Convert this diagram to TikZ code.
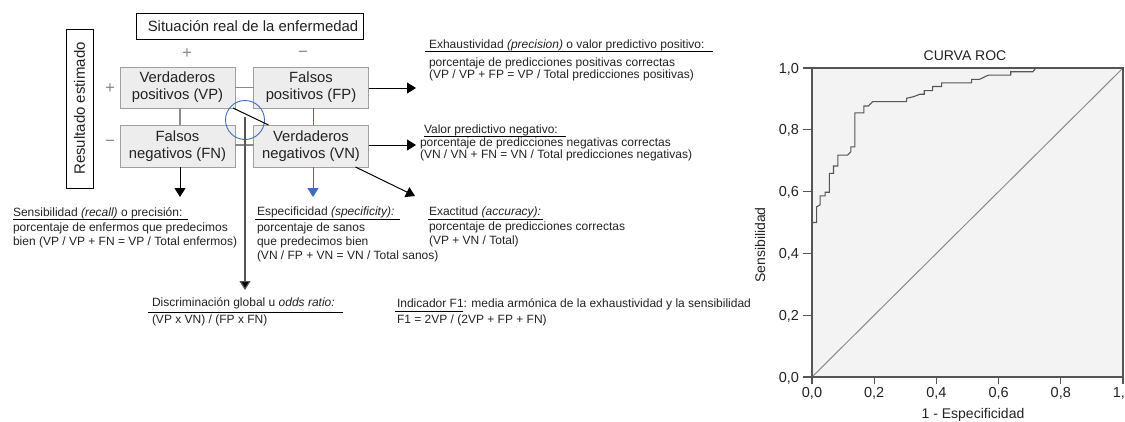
\documentclass[tikz,border=0pt]{standalone}
\usepackage{fontspec}
\setmainfont{Liberation Sans}
\usetikzlibrary{arrows.meta}
\definecolor{txt}{HTML}{222222}
\definecolor{boxfill}{HTML}{EDEDED}
\definecolor{boxdraw}{HTML}{A0A0A0}
\definecolor{conn}{HTML}{8A8A8A}
\definecolor{blu}{HTML}{3D6CC0}
\definecolor{plotbg}{HTML}{F3F3F3}
\definecolor{axiscol}{HTML}{555555}
\begin{document}
\begin{tikzpicture}[x=1pt,y=-1pt,
  every node/.style={inner sep=0pt, outer sep=0pt, text=txt},
  cell/.style={draw=boxdraw, fill=boxfill, minimum width=115pt, minimum height=41pt, align=center, font=\fontsize{14.8}{17}\selectfont, line width=0.8pt},
  small/.style={font=\fontsize{12}{14}\selectfont, anchor=base west},
  sign/.style={font=\fontsize{17}{18}\selectfont, text=conn},
  arr/.style={-{Triangle[length=9pt,width=11pt]}, line width=1pt, draw=black},
  barr/.style={-{Triangle[length=9pt,width=11pt]}, line width=1pt, draw=blu},
  gline/.style={draw=conn, line width=1.3pt},
  uline/.style={draw=black, line width=0.8pt},
  tick/.style={draw=axiscol, line width=1.2pt},
  ticklab/.style={font=\fontsize{14.5}{16}\selectfont}
]
\useasboundingbox (0,0) rectangle (1125,421);

% header boxes
\node[draw=black, line width=0.9pt, minimum width=227pt, minimum height=26pt, font=\fontsize{14.9}{17}\selectfont] (sit) at (249.5,26) {\hspace*{7pt}Situación real de la enfermedad};
\node[draw=black, line width=0.9pt, minimum width=159pt, minimum height=27pt, rotate=90, font=\fontsize{15}{17}\selectfont] (res) at (79.5,108.5) {Resultado estimado};

% signs
\node[sign] (sp) at (187,54) {+};
\node[sign] (sm) at (303,54) {−};
\node[sign] (rp) at (110,89) {+};
\node[sign] (rm) at (110,143) {−};

% cells
\node[cell] (VP) at (177.5,87.5) {Verdaderos\\positivos (VP)};
\node[cell] (FP) at (311,87.5) {Falsos\\positivos (FP)};
\node[cell, minimum height=42pt] (FN) at (177.5,146) {Falsos\\negativos (FN)};
\node[cell, minimum height=42pt] (VN) at (311,146) {Verdaderos\\negativos (VN)};

% connectors between cells
\draw[gline] (VP.east) -- (FP.west);
\draw[gline] ([xshift=2.5pt]VP.south) -- ([xshift=2.5pt]FN.north);
\draw[gline] ([yshift=1pt]FN.east) -- ([yshift=1pt]VN.west);
\draw[draw=blu, line width=1pt] ([xshift=2pt]FP.south) -- ([xshift=2pt]VN.north);

% circle and diagonal
\node[draw=blu, line width=0.9pt, circle, minimum size=39pt] (circ) at (245,120) {};
\draw[draw=black, line width=1pt] ([xshift=-2pt]VP.south east) -- ([xshift=15pt]VN.north west);

% free ends
\coordinate (tFP) at (416,88);
\coordinate (tVN) at (416,145);
\coordinate (tAcc) at (415,196);
\coordinate (tFN) at (180,197);
\coordinate (tSpe) at (313,197);
\coordinate (tOdd) at (245,290);

% arrows
\draw[arr] (FP.east |- tFP) -- (tFP);
\draw[arr] (VN.east |- tVN) -- (tVN);
\draw[arr] ([xshift=-13pt]VN.south east) -- (tAcc);
\draw[arr] (FN.south -| tFN) -- (tFN);
\draw[barr] (VN.south -| tSpe) -- (tSpe);
\draw[draw=axiscol, line width=1.2pt, -{Triangle[length=9pt,width=11pt,fill=black]}] ([yshift=3pt]circ.center) -- (tOdd);

% right texts
\node[small] (exh) at (429,48.3) {Exhaustividad \textit{(precision)} o valor predictivo positivo:};
\draw[uline] (425,51.5) -- (713,51.5);
\node[small] (exh1) at (429,66.5) {porcentaje de predicciones positivas correctas};
\node[small] (exh2) at (429,78.5) {(VP / VP + FP = VP / Total predicciones positivas)};

\node[small] (vpn) at (424,133.3) {Valor predictivo negativo:};
\draw[uline] (424,136.3) -- (566,136.3);
\node[small] (vpn1) at (420,146.5) {porcentaje de predicciones negativas correctas};
\node[small] (vpn2) at (420,158) {(VN / VN + FN = VN / Total predicciones negativas)};

% bottom texts
\node[small] (sen) at (13,216.7) {Sensibilidad \textit{(recall)} o precisión:};
\draw[uline] (13,219.8) -- (188,219.8);
\node[small] (sen1) at (13,231.5) {porcentaje de enfermos que predecimos};
\node[small] (sen2) at (13,245) {bien (VP / VP + FN = VP / Total enfermos)};

\node[small] (esp) at (257,215.5) {Especificidad \textit{(specificity):}};
\draw[uline] (255,219.5) -- (400,219.5);
\node[small] (esp1) at (257,231.5) {porcentaje de sanos};
\node[small] (esp2) at (257,245) {que predecimos bien};
\node[small] (esp3) at (257,259) {(VN / FP + VN = VN / Total sanos)};

\node[small] (acc) at (429,215) {Exactitud \textit{(accuracy):}};
\draw[uline] (428,219) -- (543,219);
\node[small] (acc1) at (429,230) {porcentaje de predicciones correctas};
\node[small] (acc2) at (429,244.5) {(VP + VN / Total)};

\node[small] (odd) at (152,306.7) {Discriminación global u \textit{odds ratio:}};
\draw[uline] (148,312.3) -- (343,312.3);
\node[small] (odd1) at (152,323) {(VP x VN) / (FP x FN)};

\node[small] (f1) at (397,307.5) {Indicador F1: media armónica de la exhaustividad y la sensibilidad};
\draw[uline] (395,311.8) -- (463,311.8);
\node[small] (f11) at (397,323) {F1 = 2VP / (2VP + FP + FN)};

% ROC plot
\node[font=\fontsize{14}{16}\selectfont, anchor=base] (roct) at (965,60) {CURVA ROC};
\fill[plotbg] (812,68) rectangle (1123,377);
\draw[draw=conn, line width=1pt] (812,377) -- (1123,68);
\begin{scope}[shift={(812pt,-377pt)}, x=311pt, y=309pt]
\draw[draw=axiscol, line width=1.1pt, line join=miter]
 (0,0) -- (0,0.5) -- (0.015,0.5) -- (0.015,0.551) -- (0.026,0.557) -- (0.026,0.586) -- (0.042,0.586) -- (0.042,0.598) -- (0.056,0.598) -- (0.056,0.659) -- (0.069,0.659) -- (0.069,0.683) -- (0.083,0.683) -- (0.083,0.718) -- (0.114,0.718) -- (0.125,0.729) -- (0.125,0.745) -- (0.138,0.745) -- (0.138,0.855) -- (0.167,0.855) -- (0.167,0.877) -- (0.181,0.877) -- (0.195,0.891) -- (0.304,0.891) -- (0.304,0.902) -- (0.326,0.907) -- (0.347,0.915) -- (0.361,0.915) -- (0.361,0.927) -- (0.388,0.927) -- (0.388,0.940) -- (0.417,0.940) -- (0.417,0.952) -- (0.513,0.952) -- (0.513,0.963) -- (0.538,0.963) -- (0.567,0.977) -- (0.639,0.977) -- (0.639,0.988) -- (0.710,0.988) -- (0.720,1) -- (1,1);
\end{scope}
\draw[draw=axiscol, line width=1.2pt] (812,68) rectangle (1123,377);
\foreach \i/\l in {0/{0,0},1/{0,2},2/{0,4},3/{0,6},4/{0,8},5/{1,0}}{
  \draw[tick] (803,{377-61.8*\i}) -- (812,{377-61.8*\i});
  \node[ticklab, anchor=base east] at (799,{382-61.8*\i}) {\l};
  \draw[tick] ({812+62.2*\i},377) -- ({812+62.2*\i},384);
  \node[ticklab, anchor=base] at ({812+62.2*\i},397) {\l};
}
\node[font=\fontsize{14}{16}\selectfont, anchor=base] (xl) at (973,418) {1 - Especificidad};
\node[font=\fontsize{14}{16}\selectfont, rotate=90] (yl) at (760,245) {Sensibilidad};
\end{tikzpicture}
\end{document}
